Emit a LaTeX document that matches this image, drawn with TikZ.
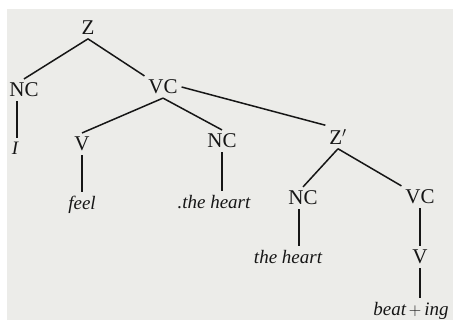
\documentclass[tikz,border=0pt]{standalone}
\usepackage{fontspec}
\setmainfont{Liberation Serif}
\definecolor{paper}{RGB}{236,236,233}
\definecolor{ink}{RGB}{22,22,22}
\tikzset{
  cat/.style={font=\fontsize{21}{23}\selectfont, text=ink, inner sep=1pt, outer sep=3pt},
  word/.style={font=\fontsize{19}{21}\selectfont\itshape, text=ink, inner sep=1pt, outer sep=3pt},
  branch/.style={draw=ink, line width=1.5pt}
}
\begin{document}
\begin{tikzpicture}[x=1pt,y=-1pt]
\useasboundingbox (0,0) rectangle (453,320);
\fill[white] (0,0) rectangle (453,320);
\fill[paper] (7,9) rectangle (453,320);
% categories
\node[cat] (Z) at (88,28) {Z};
\node[cat] (NCa) at (24,90) {NC};
\node[cat] (VCa) at (163,87) {VC};
\node[word] (I) at (15,148) {I};
\node[cat] (Va) at (82,144) {V};
\node[cat] (NCb) at (222,141) {NC};
\node[word] (feel) at (82,205) {feel};
\node[word] (hearta) at (214,202) {.the heart};
\node[cat] (Zp) at (338,137) {Z$'$};
\node[cat] (NCc) at (303,198) {NC};
\node[cat] (VCc) at (420,197) {VC};
\node[word] (heartc) at (288,257) {the heart};
\node[cat] (Vc) at (420,257) {V};
\node[word] (beat) at (411,311) {beat$\,+\,$ing};
% branches
\draw[branch] (Z.south) -- (NCa.north);
\draw[branch] (Z.south) -- (VCa.north west);
\draw[branch] (NCa.south) ++(-7,0) coordinate (ncaf) -- (ncaf |- I.north);
\draw[branch] (VCa.south) -- (Va.north);
\draw[branch] (VCa.south) -- (NCb.north);
\draw[branch] (VCa.east) -- (Zp.north west);
\draw[branch] (Va.south) -- (feel.north);
\draw[branch] (NCb.south) -- (NCb.south |- hearta.north);
\draw[branch] (Zp.south) -- (NCc.north);
\draw[branch] (Zp.south) -- (VCc.north west);
\draw[branch] (NCc.south) ++(-4,0) coordinate (nccf) -- (nccf |- heartc.north);
\draw[branch] (VCc.south) -- (Vc.north);
\draw[branch] (Vc.south) -- (Vc.south |- beat.north);
\end{tikzpicture}
\end{document}
